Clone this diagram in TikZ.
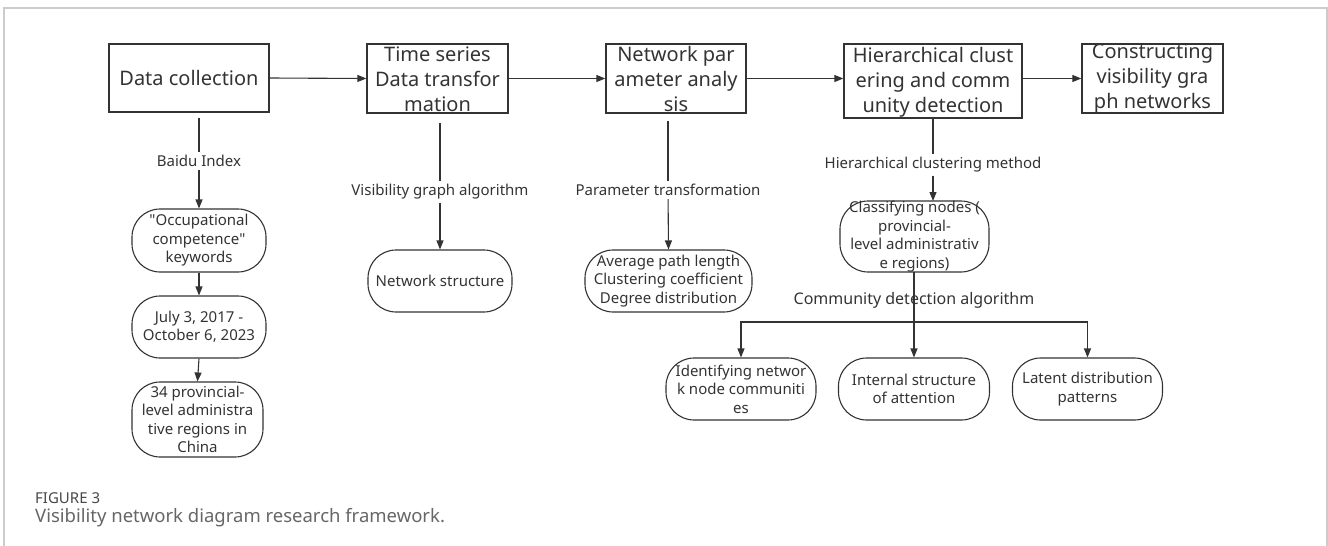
\documentclass[tikz,border=0pt]{standalone}
\usepackage{fontspec}
\setmainfont{Noto Sans}
\usetikzlibrary{arrows.meta}
\definecolor{ink}{HTML}{333333}
\definecolor{framec}{HTML}{CCCCCC}
\definecolor{capc}{HTML}{666666}
\begin{document}
\begin{tikzpicture}[x=1pt,y=-1pt,
  topbox/.style={draw=ink,line width=1.3pt,inner sep=0pt},
  toptext/.style={text=ink,align=center,inner sep=0pt,font=\fontsize{20}{25}\selectfont},
  rbox/.style={draw=ink,line width=1.1pt,rounded corners=28pt,inner sep=0pt,text=ink,align=center,font=\fontsize{15}{18.5}\selectfont},
  lbl/.style={text=ink,inner sep=3pt,font=\fontsize{15}{17}\selectfont},
  ln/.style={draw=ink,line width=1.1pt},
  arr/.style={draw=ink,line width=1.1pt,-{Triangle[length=9pt,width=7pt]}}]
\useasboundingbox (0,0) rectangle (1328,546);
% frame
\draw[framec,line width=1.3pt] (4,546) -- (4,8) -- (1327,8) -- (1327,546);

% top row
\node[topbox,minimum width=160pt,minimum height=68pt] (dc) at (189,78) {};
\node[toptext] (dct) at (dc) {Data collection};
\node[topbox,minimum width=141pt,minimum height=69pt] (ts) at (437.5,78.5) {};
\node[toptext] (tst) at (437.5,79) {Time series\\Data transfor\\mation};
\node[topbox,minimum width=140pt,minimum height=69pt] (np) at (676,78.5) {};
\node[toptext] (npt) at (676,79) {Network par\\ameter analy\\sis};
\node[topbox,minimum width=178pt,minimum height=74pt] (hc) at (933,81) {};
\node[toptext] (hct) at (933,82) {Hierarchical clust\\ering and comm\\unity detection};
\node[topbox,minimum width=141pt,minimum height=69pt] (cv) at (1152.5,78.5) {};
\node[toptext] (cvt) at (1152.5,79) {Constructing\\visibility gra\\ph networks};

\draw[arr] (dc.east) -- (ts.west);
\draw[arr] (ts.east) -- (np.west);
\draw[arr] (np.east) -- (np.east -| hc.west);
\draw[arr] (cv.west -| hc.east) -- (cv.west);

% left column
\node[rbox,minimum width=134pt,minimum height=63pt] (ob) at (199,240.5) {\textquotedbl Occupational\\competence\textquotedbl\\keywords};
\node[rbox,minimum width=134pt,minimum height=62pt] (jb) at (199,327) {July 3, 2017 -\\October 6, 2023};
\node[rbox,minimum width=131pt,minimum height=75pt] (pb) at (197.5,419.5) {34 provincial-\\level administra\\tive regions in\\China};
\coordinate (dcv) at (199,118);
\node[lbl] (l1) at (199,161) {Baidu Index};
\draw[ln] (dcv) -- (l1);
\draw[arr] (l1) -- (ob.north);
\draw[arr] (ob.south) -- (jb.north);
\draw[arr] (jb.south) -- (pb.north);

% second column
\node[rbox,minimum width=144pt,minimum height=62pt] (ns) at (440,281) {Network structure};
\coordinate (tsv) at (440,123);
\node[lbl] (l2) at (440,192) {Visibility graph algorithm};
\draw[ln] (tsv) -- (l2);
\draw[arr] (l2) -- (ns.north);

% third column
\node[rbox,minimum width=167pt,minimum height=62pt] (ap) at (668.5,281) {Average path length\\Clustering coefficient\\Degree distribution};
\coordinate (npv) at (668,121);
\node[lbl] (l3) at (668,190) {Parameter transformation};
\draw[ln] (npv) -- (l3);
\draw[arr] (l3) -- (ap.north);

% fourth column
\node[rbox,minimum width=149pt,minimum height=71pt] (cl) at (914.5,236.5) {Classifying nodes (\\provincial-\\level administrativ\\e regions)};
\node[lbl] (l4) at (933,165) {Hierarchical clustering method};
\draw[ln] (hc.south) -- (l4);
\draw[arr] (l4) -- (933,201);

\node[rbox,minimum width=150pt,minimum height=62pt] (b1) at (741,389) {Identifying networ\\k node communiti\\es};
\node[rbox,minimum width=151pt,minimum height=62pt] (b2) at (914,389) {Internal structure\\of attention};
\node[rbox,minimum width=150pt,minimum height=62pt] (b3) at (1087.5,389) {Latent distribution\\patterns};
\node[text=ink,inner sep=0pt,font=\fontsize{16}{18}\selectfont] (l5) at (914,300) {Community detection algorithm};
\coordinate (br) at (914,322);
\draw[arr] (914,272) -- (b2.north);
\draw[arr] (br) -| (b1.north);
\draw[arr] (br) -| (b3.north);

% caption
\node[anchor=west,inner sep=0pt,text=capc!70!black,font=\fontsize{15}{16}\selectfont] (fig) at (35,498) {FIGURE 3};
\node[anchor=west,inner sep=0pt,text=capc,font=\fontsize{18.5}{20}\selectfont] (capt) at (35,518) {Visibility network diagram research framework.};
\end{tikzpicture}
\end{document}
